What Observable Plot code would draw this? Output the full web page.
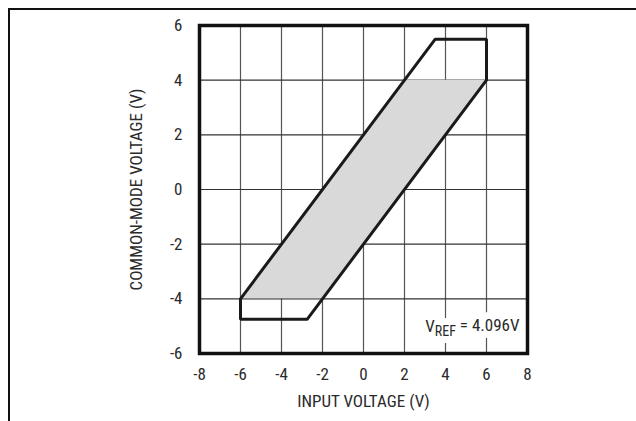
<!DOCTYPE html>
<html>
<head>
<meta charset="utf-8">
<script src="https://cdn.jsdelivr.net/npm/d3@7"></script>
<script src="https://cdn.jsdelivr.net/npm/@observablehq/plot@0.6"></script>
<style>
  html, body { margin: 0; padding: 0; background: #fff; }
  #wrap { position: relative; width: 636px; height: 421px; overflow: hidden; }
  #outer { position: absolute; left: 8px; top: 8px; width: 700px; height: 500px;
           border-left: 2.5px solid #111; border-top: 2.5px solid #111; box-sizing: border-box; }
  #chart { position: absolute; left: 0; top: 0; }
  svg text { font-family: "Liberation Sans Narrow", "Arial Narrow", "Roboto Condensed", sans-serif; }
</style>
</head>
<body>
<div id="wrap"><div id="outer"></div><div id="chart"></div></div>
<script>
// Outline of the common-mode input range (input voltage, common-mode voltage)
const outlineX = [-6, 3.5, 6, 6, -2.75, -6, -6];
const outlineY = [-4, 5.5, 5.5, 4, -4.75, -4.75, -4];
// Shaded region: for each input voltage, lower and upper common-mode limits
const shadeX = [-6, -2, 2, 6];
const shadeLow = [-4, -4, 0, 4];
const shadeHigh = [-4, 0, 4, 4];
// Tick labels
const xTicks = [-8, -6, -4, -2, 0, 2, 4, 6, 8];
const yTicks = [-6, -4, -2, 0, 2, 4, 6];
const xLabel = "INPUT VOLTAGE (V)";
const yLabel = "COMMON-MODE VOLTAGE (V)";
const note = "VREF = 4.096V";

const outline = outlineX.map((x, i) => ({x, y: outlineY[i]}));
const shade = shadeX.map((x, i) => ({x, lo: shadeLow[i], hi: shadeHigh[i]}));

const fontFam = '"Liberation Sans Narrow", "Arial Narrow", sans-serif';
const fmt = d => String(d);

const chart = Plot.plot({
  width: 636,
  height: 421,
  marginLeft: 199,
  marginRight: 109,
  marginTop: 25,
  marginBottom: 68,
  style: {fontFamily: fontFam, fontSize: "17px", color: "#2a2a2a", background: "transparent"},
  x: {domain: [-8, 8]},
  y: {domain: [-6, 6]},
  marks: [
    Plot.gridX(xTicks, {stroke: "#555", strokeOpacity: 1, strokeWidth: 1.2}),
    Plot.gridY(yTicks, {stroke: "#333", strokeOpacity: 1, strokeWidth: 1.2}),
    Plot.areaY(shade, {x: "x", y1: "lo", y2: "hi", fill: "#d9d9d9", curve: "linear"}),
    Plot.line(outline, {x: "x", y: "y", stroke: "#1a1a1a", strokeWidth: 3, strokeLinejoin: "miter"}),
    Plot.text([note], {frameAnchor: "bottom-right", dx: -8, dy: -22, textAnchor: "end",
      fill: "white", stroke: "white", strokeWidth: 14, fontSize: 17, className: "vref"}),
    Plot.text([note], {frameAnchor: "bottom-right", dx: -8, dy: -22, textAnchor: "end",
      fill: "#2a2a2a", fontSize: 17, className: "vref"}),
    Plot.frame({stroke: "#111", strokeWidth: 3.5}),
    Plot.axisX(xTicks, {tickSize: 0, tickPadding: 14, fontSize: 17, tickFormat: fmt, label: xLabel,
      labelAnchor: "center", labelOffset: 53, labelArrow: "none"}),
    Plot.axisY(yTicks, {tickSize: 0, tickPadding: 17, fontSize: 17, tickFormat: fmt, label: yLabel,
      labelAnchor: "center", labelOffset: 70, labelArrow: "none"})
  ]
});
document.getElementById("chart").appendChild(chart);

// subscript for VREF
d3.select(chart).selectAll("g.vref text").each(function() {
  const t = d3.select(this);
  t.text(null);
  t.append("tspan").text("V");
  t.append("tspan").attr("font-size", 14).attr("dy", "0.3em").text("REF");
  t.append("tspan").attr("dy", "-0.3em").text(" = 4.096V");
});
</script>
</body>
</html>
